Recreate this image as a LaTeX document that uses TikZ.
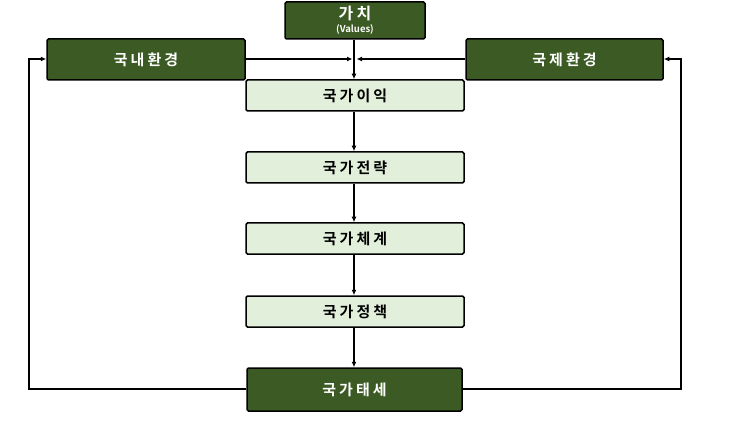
\documentclass[tikz,border=0pt]{standalone}
\usepackage{fontspec}
\newfontfamily\kr[LetterSpace=20]{Noto Sans CJK KR Bold}
\newfontfamily\krs{Noto Sans CJK KR Bold}
\usetikzlibrary{arrows.meta}
\definecolor{dkgreen}{HTML}{3B5A24}
\definecolor{ltgreen}{HTML}{E2EFDA}
\tikzset{
  dark/.style={draw=black,line width=1.5pt,fill=dkgreen,rounded corners=1.5pt,text=white,font=\kr\fontsize{15}{17}\selectfont,inner sep=0pt},
  light/.style={draw=black,line width=1.5pt,fill=ltgreen,rounded corners=1.5pt,text=black,font=\kr\fontsize{15}{17}\selectfont,inner sep=0pt,minimum width=218pt,minimum height=31pt},
  conn/.style={line width=1.3pt,draw=black},
  arr/.style={conn,-{Latex[length=5.5pt,width=5pt]}}
}
\begin{document}
\begin{tikzpicture}[x=1pt,y=1pt]
\useasboundingbox (0,0) rectangle (750,421);
\fill[white] (0,0) rectangle (750,421);
% top value box
\node[dark,minimum width=140pt,minimum height=37pt,align=center] (val) at (355,400.5)
  {{\kr\fontsize{16}{16}\selectfont 가치}\\[-4pt]{\krs\fontsize{9.5}{10}\selectfont (Values)}};
\node[dark,minimum width=198pt,minimum height=41pt] (dom) at (146,361.5) {국내환경};
\node[dark,minimum width=197pt,minimum height=41pt] (intl) at (564.5,361.5) {국제환경};
\node[light] (int) at (355,325.5) {국가이익};
\node[light] (str) at (355,253.5) {국가전략};
\node[light] (sys) at (355,182.5) {국가체계};
\node[light] (pol) at (355,109.5) {국가정책};
\node[dark,minimum width=215pt,minimum height=43pt] (pos) at (354.5,31.5) {국가태세};
% junction coordinates
\coordinate (jl) at (352.5,362);
\coordinate (jr) at (356.5,362);
\coordinate (bl) at (29,32);
\coordinate (tl) at (29,362);
\coordinate (br) at (681,32);
\coordinate (tr) at (681,362);
% connectors
\draw[arr] (val.south -| 354,0) -- (int.north -| 354,0);
\draw[arr] (dom.east |- jl) -- (jl);
\draw[arr] (intl.west |- jr) -- (jr);
\draw[arr] (int.south -| 354,0) -- (str.north -| 354,0);
\draw[arr] (str.south -| 354,0) -- (sys.north -| 354,0);
\draw[arr] (sys.south -| 354,0) -- (pol.north -| 354,0);
\draw[arr] (pol.south -| 354,0) -- (pos.north -| 354,0);
\draw[arr] (pos.west |- bl) -- (bl) -- (tl) -- (dom.west |- tl);
\draw[arr] (pos.east |- br) -- (br) -- (tr) -- (intl.east |- tr);
\end{tikzpicture}
\end{document}
